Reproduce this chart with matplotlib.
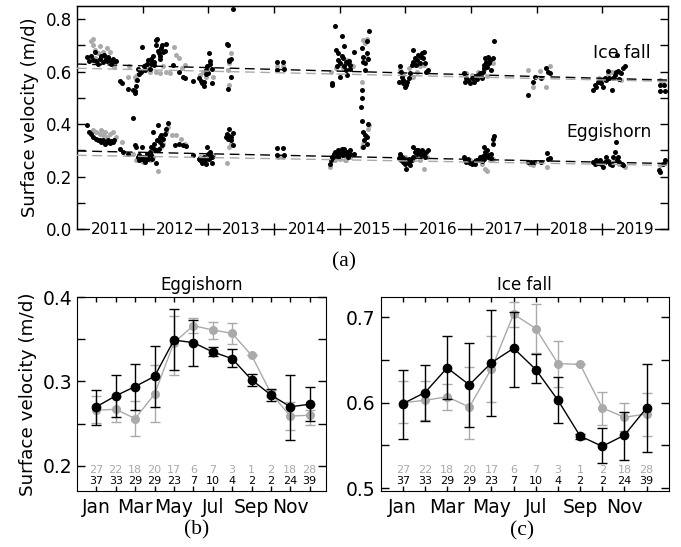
import matplotlib
matplotlib.use("Agg")
import matplotlib.pyplot as plt
import matplotlib.transforms as mtransforms
from matplotlib.ticker import MultipleLocator

# ---------------- data: panel (a) time series ----------------
icefall_black_t = [2011.15,2011.18,2011.22,2011.25,2011.27,2011.29,2011.32,2011.35,2011.37,2011.40,2011.41,2011.44,2011.45,2011.47,2011.50,2011.52,2011.55,2011.57,2011.60,
    2011.66,2011.69,2011.78,2011.85,2011.88,2011.89,2011.90,2011.91,2011.93,2011.95,2011.98,2011.99,
    2012.02,2012.03,2012.06,2012.08,2012.11,2012.12,2012.13,2012.15,2012.16,2012.17,2012.18,2012.20,2012.21,2012.22,2012.23,2012.25,2012.26,2012.27,2012.28,2012.30,2012.31,2012.34,2012.36,
    2012.46,2012.56,2012.61,2012.64,2012.76,2012.86,2012.89,2012.91,2012.93,2012.94,2012.96,2012.97,2012.98,2012.99,2013.01,2013.02,2013.03,2013.05,2013.06,
    2013.28,2013.30,2013.31,2013.32,2013.34,2013.30,2013.35,2013.38,
    2014.04,2014.05,2014.14,2014.15,
    2014.88,2014.89,2014.93,2014.95,2014.96,2014.97,2014.98,2015.00,2015.01,2015.03,2015.04,2015.05,2015.06,2015.07,2015.09,2015.10,2015.11,2015.13,2015.14,2015.15,2015.16,2015.22,
    2015.34,2015.35,2015.36,2015.38,2015.39,2015.42,2015.44,2015.41,2015.43,2015.34,2015.34,2015.33,
    2015.90,2015.92,2015.93,2015.95,2015.96,2015.97,2016.00,2016.01,2016.02,2016.05,2016.07,2016.10,2016.11,2016.12,2016.15,2016.16,2016.18,2016.20,2016.23,2016.24,2016.25,2016.27,2016.29,2016.30,2016.32,2016.34,
    2016.89,2016.91,2016.93,2016.96,2016.98,2017.01,2017.04,2017.06,2017.09,2017.11,2017.14,2017.16,2017.18,2017.19,2017.20,2017.21,2017.23,2017.25,2017.26,2017.28,2017.29,2017.31,2017.33,2017.35,
    2017.87,2017.95,2017.97,2018.06,2018.14,2018.17,2018.20,
    2018.86,2018.88,2018.91,2018.93,2018.96,2018.98,2019.01,2019.04,2019.06,2019.09,2019.10,2019.14,2019.16,2019.19,2019.20,2019.22,2019.24,2019.26,2019.29,2019.31,2019.34,
    2019.87,2019.88,2019.94,2019.95]
icefall_black_v = [0.655,0.640,0.660,0.645,0.675,0.640,0.630,0.650,0.660,0.635,0.665,0.650,0.640,0.655,0.645,0.630,0.650,0.640,0.640,
    0.565,0.558,0.535,0.530,0.520,0.525,0.545,0.570,0.612,0.592,0.600,0.695,
    0.620,0.605,0.630,0.645,0.610,0.630,0.650,0.640,0.660,0.625,0.635,0.700,0.720,0.725,0.680,0.670,0.650,0.660,0.690,0.700,0.675,0.680,0.705,
    0.625,0.600,0.580,0.575,0.565,0.575,0.565,0.555,0.545,0.560,0.590,0.605,0.620,0.595,0.670,0.630,0.640,0.555,0.610,
    0.705,0.700,0.640,0.645,0.580,0.535,0.650,0.840,
    0.638,0.606,0.638,0.609,
    0.555,0.549,0.772,0.683,0.620,0.670,0.645,0.580,0.632,0.660,0.734,0.651,0.696,0.620,0.638,0.606,0.587,0.632,0.640,0.625,0.610,0.673,
    0.689,0.638,0.657,0.632,0.606,0.715,0.753,0.670,0.650,0.532,0.498,0.466,
    0.562,0.620,0.600,0.580,0.568,0.555,0.543,0.549,0.562,0.575,0.594,0.625,0.638,0.683,0.651,0.625,0.645,0.664,0.632,0.657,0.670,0.651,0.676,0.632,0.600,0.606,
    0.594,0.562,0.575,0.568,0.555,0.575,0.562,0.581,0.571,0.587,0.594,0.575,0.600,0.613,0.625,0.651,0.638,0.619,0.657,0.632,0.645,0.606,0.651,0.715,
    0.511,0.562,0.578,0.575,0.613,0.600,0.594,
    0.532,0.549,0.543,0.562,0.568,0.555,0.540,0.575,0.568,0.604,0.575,0.532,0.575,0.587,0.600,0.664,0.604,0.571,0.594,0.613,0.622,
    0.549,0.527,0.549,0.527]

eggis_black_t = [2011.15,2011.18,2011.22,2011.25,2011.29,2011.32,2011.35,2011.37,2011.40,2011.42,2011.45,2011.47,2011.50,2011.52,2011.55,2011.57,
    2011.66,2011.70,2011.78,2011.85,2011.88,2011.90,2011.93,2011.94,2011.95,2011.98,2011.99,2012.01,2012.02,2012.03,2012.06,2012.07,2012.08,2012.11,2012.12,2012.13,2012.15,2012.16,2012.17,2012.18,2012.20,2012.21,2012.22,2012.23,2012.25,2012.26,2012.27,2012.28,2012.30,2012.31,2012.34,2012.36,2012.39,
    2012.49,2012.56,2012.61,2012.66,2012.76,2012.86,2012.87,2012.89,2012.91,2012.93,2012.94,2012.96,2012.97,2012.98,2012.99,2013.01,2013.02,2013.03,2013.05,2013.06,
    2013.27,2013.28,2013.30,2013.31,2013.32,2013.34,2013.35,2013.37,2013.38,
    2014.04,2014.05,2014.14,2014.15,
    2014.86,2014.87,2014.88,2014.90,2014.92,2014.93,2014.95,2014.96,2014.97,2014.98,2015.00,2015.01,2015.03,2015.04,2015.05,2015.06,2015.08,2015.09,2015.10,2015.11,2015.13,2015.14,2015.15,2015.16,2015.22,
    2015.34,2015.43,2015.36,2015.39,2015.37,2015.41,2015.42,2015.36,
    2015.90,2015.92,2015.93,2015.95,2015.96,2015.97,2016.00,2016.01,2016.02,2016.05,2016.06,2016.07,2016.10,2016.11,2016.12,2016.15,2016.16,2016.18,2016.20,2016.23,2016.24,2016.25,2016.28,2016.30,2016.32,2016.34,
    2016.89,2016.91,2016.93,2016.96,2016.98,2017.01,2017.04,2017.06,2017.09,2017.11,2017.14,2017.16,2017.18,2017.19,2017.20,2017.21,2017.23,2017.25,2017.26,2017.28,2017.30,2017.31,2017.33,2017.34,2017.35,
    2017.87,2017.92,2017.96,2018.06,2018.15,2018.17,2018.20,
    2018.86,2018.88,2018.91,2018.93,2018.96,2018.98,2019.01,2019.04,2019.06,2019.09,2019.11,2019.14,2019.16,2019.19,2019.20,2019.22,2019.24,2019.26,2019.30,2019.32,
    2019.86,2019.88,2019.92,2019.95]
eggis_black_v = [0.396,0.371,0.364,0.352,0.345,0.339,0.341,0.332,0.339,0.326,0.332,0.339,0.329,0.336,0.332,0.339,
    0.307,0.294,0.288,0.425,0.320,0.313,0.275,0.262,0.282,0.269,0.313,0.275,0.262,0.256,0.275,0.288,0.269,0.294,0.313,0.282,0.269,0.371,0.307,0.326,0.301,0.252,0.339,0.396,0.307,0.352,0.332,0.358,0.320,0.345,0.364,0.383,0.403,
    0.320,0.326,0.320,0.317,0.282,0.269,0.262,0.265,0.252,0.275,0.260,0.269,0.250,0.313,0.288,0.269,0.282,0.294,0.252,0.275,
    0.352,0.364,0.345,0.380,0.354,0.339,0.352,0.367,0.320,
    0.310,0.282,0.310,0.282,
    0.247,0.262,0.275,0.275,0.285,0.294,0.282,0.285,0.275,0.303,0.285,0.288,0.307,0.294,0.282,0.307,0.288,0.288,0.294,0.294,0.275,0.282,0.288,0.301,0.288,
    0.413,0.402,0.371,0.358,0.339,0.326,0.352,0.313,
    0.273,0.288,0.265,0.275,0.256,0.269,0.250,0.231,0.262,0.252,0.269,0.243,0.262,0.275,0.313,0.294,0.303,0.288,0.301,0.294,0.282,0.301,0.285,0.275,0.294,0.301,
    0.275,0.265,0.256,0.269,0.252,0.247,0.256,0.250,0.262,0.265,0.275,0.260,0.278,0.269,0.313,0.294,0.285,0.303,0.275,0.282,0.273,0.288,0.326,0.345,0.354,
    0.256,0.256,0.255,0.256,0.290,0.269,0.273,
    0.256,0.250,0.262,0.252,0.265,0.247,0.237,0.256,0.275,0.260,0.250,0.243,0.275,0.294,0.332,0.262,0.275,0.256,0.250,0.243,
    0.224,0.218,0.247,0.262]

icefall_gray_t = [2011.22,2011.24,2011.25,2011.27,2011.28,2011.32,2011.35,2011.37,2011.40,2011.42,2011.45,2011.50,2011.52,2011.57,
    2011.78,2011.80,2011.88,2011.90,2011.91,
    2012.03,2012.06,2012.11,2012.16,2012.21,2012.26,2012.31,2012.36,2012.41,2012.47,2012.51,2012.56,2012.60,2012.64,
    2012.87,2012.92,2012.97,2013.02,2013.07,2013.32,2013.35,2013.31,2013.30,
    2014.05,2014.14,
    2014.87,2014.95,2015.00,2015.05,2015.06,2015.11,2015.16,2015.21,2015.36,2015.39,2015.42,2015.41,2015.34,
    2015.92,2015.97,2016.05,2016.12,2016.15,2016.17,2016.23,2016.28,2016.33,
    2016.93,2017.01,2017.11,2017.19,2017.24,2017.29,2017.34,
    2017.87,2017.95,2018.05,2018.14,2018.21,
    2018.95,2019.01,2019.09,2019.14,2019.24,2019.29,
    2019.87,2019.92]
icefall_gray_v = [0.715,0.724,0.702,0.683,0.651,0.670,0.696,0.657,0.676,0.645,0.689,0.676,0.638,0.619,
    0.580,0.620,0.580,0.568,0.587,
    0.625,0.613,0.600,0.632,0.600,0.594,0.620,0.600,0.594,0.695,0.664,0.651,0.613,0.625,
    0.587,0.600,0.580,0.613,0.580,0.632,0.670,0.549,0.606,
    0.620,0.620,
    0.600,0.613,0.625,0.613,0.625,0.645,0.613,0.620,0.721,0.708,0.724,0.651,0.562,
    0.606,0.587,0.613,0.580,0.625,0.600,0.620,0.625,0.600,
    0.594,0.587,0.600,0.606,0.583,0.645,0.632,
    0.606,0.540,0.604,0.543,0.620,
    0.575,0.568,0.591,0.600,0.597,0.568,
    0.568,0.555]

eggis_gray_t = [2011.24,2011.29,2011.35,2011.37,2011.40,2011.42,2011.45,2011.50,2011.55,2011.60,2011.68,
    2011.85,2011.90,2011.95,2012.01,2012.06,2012.11,2012.16,2012.23,2012.28,2012.31,2012.36,2012.39,
    2012.44,2012.51,2012.59,2012.64,
    2012.87,2012.92,2012.97,2013.02,2013.07,2013.28,2013.32,2013.35,
    2014.06,2014.14,
    2014.85,2014.92,2015.00,2015.08,2014.93,2015.01,2015.09,2015.16,2015.34,2015.36,2015.43,2015.44,
    2015.92,2016.00,2016.07,2016.15,2016.23,2016.29,2016.33,
    2016.98,2017.09,2017.16,2017.21,2017.24,2017.29,2017.34,
    2017.90,2017.95,2018.15,2018.20,
    2018.91,2018.98,2019.06,2019.11,2019.19,2019.26,2019.34,
    2019.87,2019.95]
eggis_gray_v = [0.377,0.371,0.364,0.377,0.358,0.371,0.352,0.364,0.371,0.352,0.332,
    0.288,0.262,0.265,0.256,0.275,0.262,0.275,0.222,0.313,0.326,0.371,0.390,
    0.358,0.358,0.345,0.326,
    0.275,0.269,0.256,0.288,0.282,0.252,0.313,0.326,
    0.275,0.275,
    0.237,0.262,0.269,0.265,0.265,0.275,0.262,0.275,0.313,0.326,0.383,0.396,
    0.282,0.275,0.262,0.275,0.262,0.231,0.275,
    0.262,0.265,0.250,0.231,0.222,0.262,0.269,
    0.250,0.243,0.237,0.269,
    0.250,0.256,0.262,0.256,0.262,0.250,0.237,
    0.243,0.256]

# linear trends (value at start and end of the period)
trend_years = [2011.0, 2020.0]
icefall_black_trend = [0.629, 0.568]
icefall_gray_trend = [0.613, 0.563]
eggis_black_trend = [0.298, 0.250]
eggis_gray_trend = [0.2815, 0.243]

years = list(range(2011, 2020))

# ---------------- data: panels (b), (c) monthly means ----------------
months = list(range(1, 13))
month_labels = ["Jan", "Mar", "May", "Jul", "Sep", "Nov"]

egg_black_mean = [0.270, 0.283, 0.294, 0.306, 0.349, 0.346, 0.335, 0.327, 0.302, 0.284, 0.270, 0.273]
egg_black_lo   = [0.249, 0.258, 0.266, 0.270, 0.313, 0.318, 0.330, 0.317, 0.295, 0.277, 0.231, 0.253]
egg_black_hi   = [0.290, 0.308, 0.321, 0.342, 0.386, 0.373, 0.341, 0.339, 0.309, 0.291, 0.308, 0.293]
egg_gray_mean  = [0.266, 0.267, 0.256, 0.285, 0.346, 0.366, 0.361, 0.357, 0.331, 0.286, 0.259, 0.260]
egg_gray_lo    = [0.251, 0.252, 0.235, 0.252, 0.308, 0.357, 0.350, 0.344, 0.331, 0.282, 0.242, 0.249]
egg_gray_hi    = [0.283, 0.283, 0.277, 0.319, 0.378, 0.375, 0.371, 0.369, 0.331, 0.290, 0.276, 0.266]

ice_black_mean = [0.599, 0.612, 0.641, 0.621, 0.647, 0.664, 0.639, 0.603, 0.561, 0.549, 0.562, 0.594]
ice_black_lo   = [0.558, 0.579, 0.605, 0.572, 0.585, 0.618, 0.623, 0.576, 0.558, 0.529, 0.533, 0.542]
ice_black_hi   = [0.639, 0.644, 0.678, 0.670, 0.709, 0.707, 0.657, 0.630, 0.564, 0.570, 0.589, 0.645]
ice_gray_mean  = [0.600, 0.603, 0.607, 0.595, 0.640, 0.704, 0.687, 0.646, 0.645, 0.594, 0.583, 0.587]
ice_gray_lo    = [0.576, 0.580, 0.591, 0.557, 0.601, 0.689, 0.658, 0.619, 0.645, 0.574, 0.567, 0.561]
ice_gray_hi    = [0.626, 0.626, 0.622, 0.642, 0.678, 0.718, 0.716, 0.673, 0.645, 0.613, 0.600, 0.612]

count_gray  = [27, 22, 18, 20, 17, 6, 7, 3, 1, 2, 18, 28]
count_black = [37, 33, 29, 29, 23, 7, 10, 4, 2, 2, 24, 39]

GRAY = "#aaaaaa"
BLACK = "#000000"

plt.rcParams['font.family'] = ['DejaVu Sans']

fig = plt.figure(figsize=(6.81, 5.47), dpi=100)

# ---------------- panel (a) ----------------
axa = fig.add_axes([0.113, 0.581, 0.868, 0.408])
axa.scatter(icefall_gray_t, icefall_gray_v, s=13, color=GRAY, linewidths=0, zorder=2)
axa.scatter(eggis_gray_t, eggis_gray_v, s=13, color=GRAY, linewidths=0, zorder=2)
axa.scatter(icefall_black_t, icefall_black_v, s=13, color=BLACK, linewidths=0, zorder=3)
axa.scatter(eggis_black_t, eggis_black_v, s=13, color=BLACK, linewidths=0, zorder=3)
for tr, col in [(icefall_gray_trend, GRAY), (eggis_gray_trend, GRAY),
                (icefall_black_trend, BLACK), (eggis_black_trend, BLACK)]:
    axa.plot(trend_years, tr, color=col, lw=1.0, dashes=(7, 4), zorder=4)
axa.set_xlim(2011, 2020)
axa.set_ylim(0, 0.85)
axa.set_xticks(years[1:])
axa.set_xticklabels([])
axa.yaxis.set_major_locator(MultipleLocator(0.2))
axa.yaxis.set_minor_locator(MultipleLocator(0.1))
axa.set_yticklabels([f"{v:.1f}" for v in axa.get_yticks()])
axa.tick_params(axis='y', which='both', direction='in', length=6, width=1, left=True, right=True, labelsize=12)
axa.tick_params(axis='x', which='both', direction='inout', length=8, width=1, top=False)
axa.set_ylim(0, 0.85)
sec = axa.secondary_xaxis('top')
sec.set_xticks(years[1:])
sec.set_xticklabels([])
sec.tick_params(direction='in', length=5, width=1)
for y in years:
    axa.text(y + 0.5, 0.0, str(y), ha='center', va='center', fontsize=11,
             bbox=dict(facecolor='white', edgecolor='none', pad=0.6), zorder=5, clip_on=False)
axa.text(2019.3, 0.672, "Ice fall", ha='center', va='center', fontsize=12.5)
axa.text(2019.1, 0.372, "Eggishorn", ha='center', va='center', fontsize=12.3)
axa.set_ylabel("Surface velocity (m/d)", fontsize=13, labelpad=5)
for s in axa.spines.values():
    s.set_linewidth(1.0)

# ---------------- panels (b), (c) ----------------
def monthly(ax, bm, blo, bhi, gm, glo, ghi, title, ylim, xlim):
    gerr = [[m - l for m, l in zip(gm, glo)], [h - m for m, h in zip(gm, ghi)]]
    berr = [[m - l for m, l in zip(bm, blo)], [h - m for m, h in zip(bm, bhi)]]
    ax.errorbar(months, gm, yerr=gerr, color=GRAY, lw=1.0, marker='o', ms=5.5,
                capsize=3.5, elinewidth=1.0, capthick=1.0, zorder=2)
    ax.errorbar(months, bm, yerr=berr, color=BLACK, lw=1.0, marker='o', ms=6,
                capsize=3.5, elinewidth=1.0, capthick=1.0, zorder=3)
    ax.set_xlim(*xlim)
    ax.set_ylim(*ylim)
    ax.set_xticks(months, minor=True)
    ax.set_xticks([1, 3, 5, 7, 9, 11])
    ax.set_xticklabels(month_labels)
    ax.yaxis.set_major_locator(MultipleLocator(0.1))
    ax.yaxis.set_minor_locator(MultipleLocator(0.05))
    ax.set_ylim(*ylim)
    ax.tick_params(axis='y', which='both', direction='in', length=6, width=1, left=True, right=True, labelsize=13.5)
    ax.tick_params(axis='x', which='both', direction='in', length=3.5, width=1, top=True, bottom=True, labelsize=13.5, pad=5)
    ax.set_title(title, fontsize=12, pad=5)
    trans = mtransforms.blended_transform_factory(ax.transData, ax.transAxes)
    for m, cg, cb in zip(months, count_gray, count_black):
        ax.text(m, 0.108, str(cg), color=GRAY, ha='center', va='center', fontsize=8, transform=trans)
        ax.text(m, 0.052, str(cb), color=BLACK, ha='center', va='center', fontsize=8, transform=trans)

axb = fig.add_axes([0.113, 0.102, 0.366, 0.355])
monthly(axb, egg_black_mean, egg_black_lo, egg_black_hi, egg_gray_mean, egg_gray_lo, egg_gray_hi,
        "Eggishorn", (0.17, 0.4), (0.0, 12.85))
axb.set_yticklabels([f"{v:.1f}" for v in axb.get_yticks()])
axb.set_ylim(0.17, 0.4)
axb.set_ylabel("Surface velocity (m/d)", fontsize=13.2, labelpad=4)

axc = fig.add_axes([0.559, 0.103, 0.423, 0.354])
monthly(axc, ice_black_mean, ice_black_lo, ice_black_hi, ice_gray_mean, ice_gray_lo, ice_gray_hi,
        "Ice fall", (0.497, 0.724), (0.0, 13.0))
axc.set_yticklabels([f"{v:.1f}" for v in axc.get_yticks()])
axc.set_ylim(0.497, 0.724)

fig.text(0.505, 0.521, "(a)", ha='center', va='center', fontsize=15.5, family='Liberation Serif')
fig.text(0.289, 0.031, "(b)", ha='center', va='center', fontsize=15.5, family='Liberation Serif')
fig.text(0.767, 0.029, "(c)", ha='center', va='center', fontsize=15.5, family='Liberation Serif')

fig.savefig("out.png", dpi=100)
